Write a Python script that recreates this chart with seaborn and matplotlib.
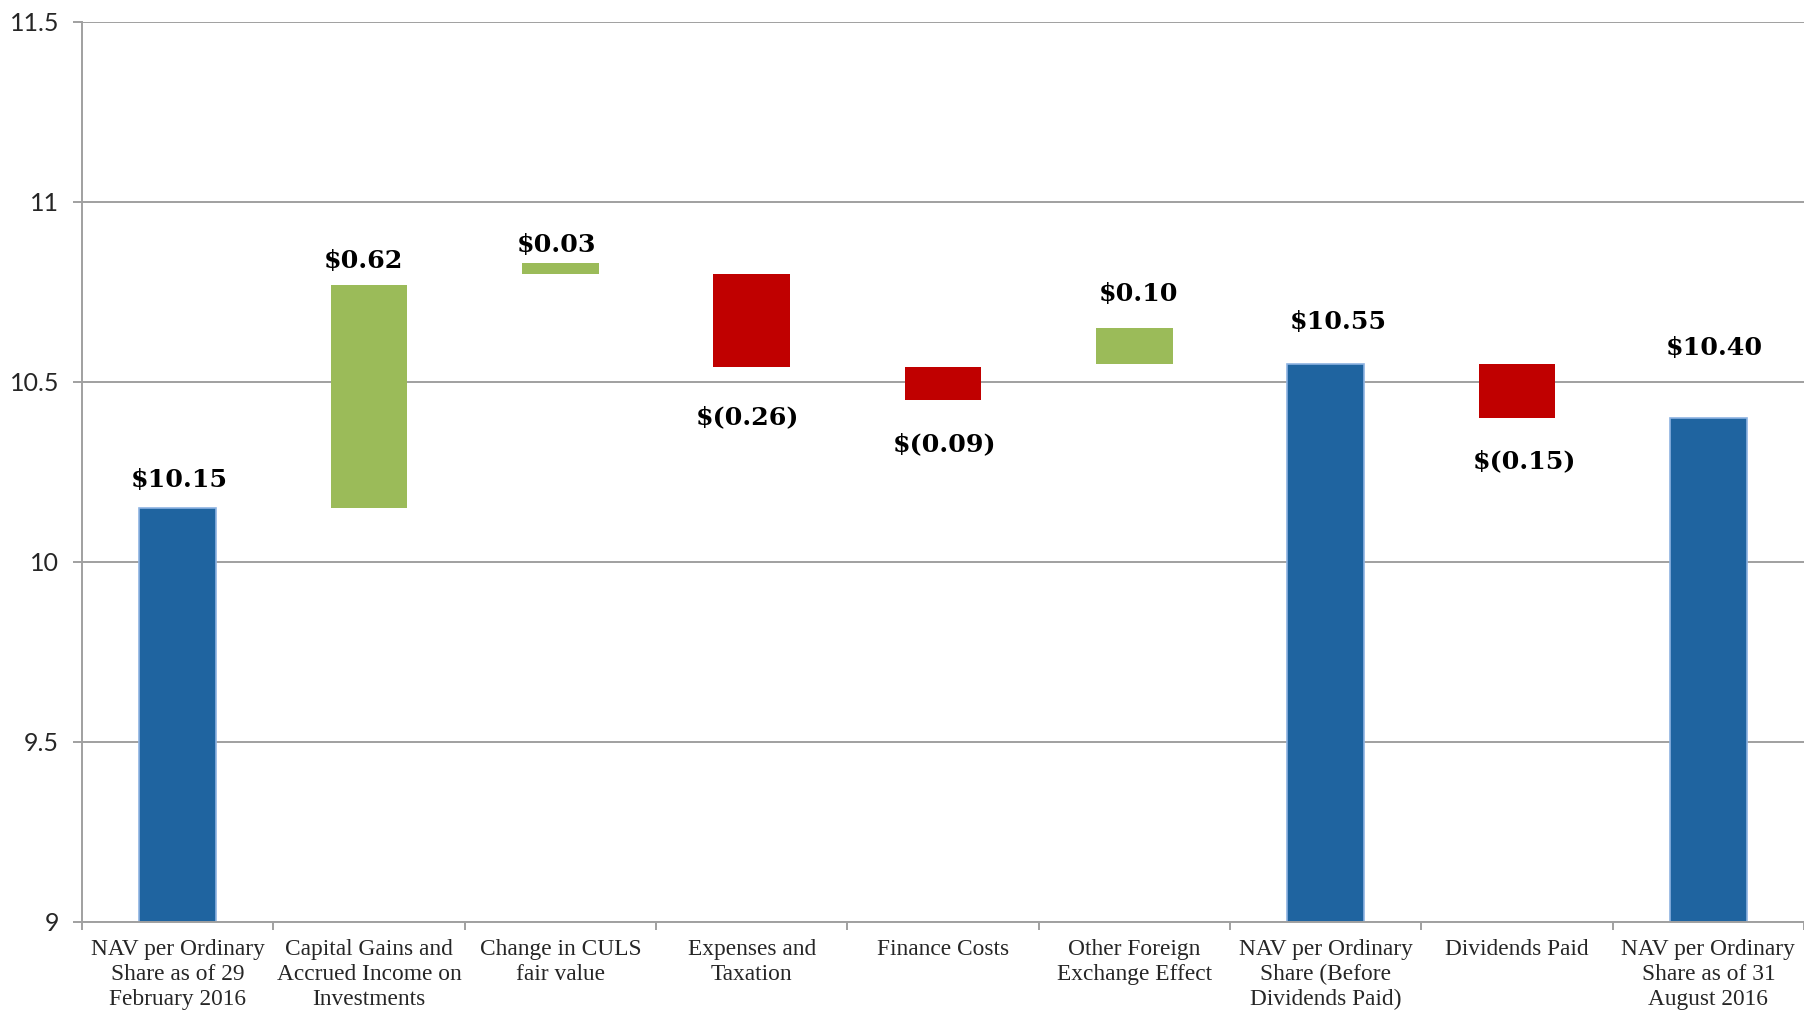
import matplotlib
matplotlib.use("Agg")
import matplotlib.pyplot as plt
import seaborn as sns
import pandas as pd

# NAV per share bridge, Feb 2016 -> Aug 2016
categories = [
    "NAV per Ordinary\nShare as of 29\nFebruary 2016",
    "Capital Gains and\nAccrued Income on\nInvestments",
    "Change in CULS\nfair value",
    "Expenses and\nTaxation",
    "Finance Costs",
    "Other Foreign\nExchange Effect",
    "NAV per Ordinary\nShare (Before\nDividends Paid)",
    "Dividends Paid",
    "NAV per Ordinary\nShare as of 31\nAugust 2016",
]
values = [10.15, 0.62, 0.03, -0.26, -0.09, 0.10, 10.55, -0.15, 10.40]
kinds = ["total", "up", "up", "down", "down", "up", "total", "down", "total"]
# level each floating bar starts from (totals start from zero)
bar_starts = [0.0, 10.15, 10.80, 10.80, 10.54, 10.55, 0.0, 10.55, 0.0]
label_texts = ["$10.15", "$0.62", "$0.03", "$(0.26)", "$(0.09)", "$0.10",
               "$10.55", "$(0.15)", "$10.40"]
y_ticks = [9, 9.5, 10, 10.5, 11, 11.5]
y_tick_labels = ["9", "9.5", "10", "10.5", "11", "11.5"]

colors = {"total": "#1F64A0", "up": "#9BBB59", "down": "#C00000"}
edge = {"total": "#8DB3E2", "up": "none", "down": "none"}

sns.set_style("white")
fig = plt.figure(figsize=(18.04, 10.10), dpi=100)
ax = fig.add_axes([0.0455, 0.0876, 0.9545, 0.8907])

df = pd.DataFrame({"category": categories, "value": values})
sns.barplot(data=df, x="category", y="value", bottom=bar_starts,
            width=0.4, errorbar=None, ax=ax, color=colors["total"])

for patch, kind in zip(ax.patches, kinds):
    patch.set_facecolor(colors[kind])
    patch.set_edgecolor(edge[kind])
    patch.set_linewidth(1.2 if kind == "total" else 0)
    patch.set_zorder(3)

ax.set_ylim(9, 11.5)
ax.set_xlim(-0.5, len(categories) - 0.5)
ax.set_yticks(y_ticks)
ax.set_yticklabels(y_tick_labels, fontsize=18, family="Lato")
ax.set_xlabel("")
ax.set_ylabel("")

grid_c = "#A0A0A0"
ax.yaxis.grid(True, color=grid_c, linewidth=1.4, zorder=0)
ax.set_axisbelow(True)
for s in ["top", "right"]:
    ax.spines[s].set_visible(False)
for s in ["left", "bottom"]:
    ax.spines[s].set_color(grid_c)
    ax.spines[s].set_linewidth(1.4)
    ax.spines[s].set_zorder(4)

ax.tick_params(axis="y", length=6.5, width=1.4, color=grid_c, pad=10, left=True)
ax.set_xticks(range(len(categories)))
ax.set_xticklabels(categories, fontsize=16.8, family="Liberation Serif",
                   linespacing=1.25, va="top")
ax.tick_params(axis="x", which="major", length=0, pad=12.5)
ax.set_xticks([i - 0.5 for i in range(len(categories) + 1)], minor=True)
ax.tick_params(axis="x", which="minor", length=6, width=1.4, color=grid_c, bottom=True)

# value labels (offsets in points: x nudge, distance from bar end)
label_offsets = [(1, 20), (-4, 17), (-3, 13), (-3, -36), (1, -32), (3, 24),
                 (9, 30), (5, -31), (4, 50)]
for i, (start, val, txt) in enumerate(zip(bar_starts, values, label_texts)):
    end = start + val
    top = max(start, end)
    bot = min(start, end)
    dx, dy = label_offsets[i]
    anchor = top if dy > 0 else bot
    ax.annotate(txt, xy=(i, anchor), xytext=(dx, dy), textcoords="offset points",
                ha="center", va="center", fontsize=18.3, fontweight="bold",
                family="DejaVu Serif", color="black", zorder=5)

fig.savefig("out.png", dpi=100)
